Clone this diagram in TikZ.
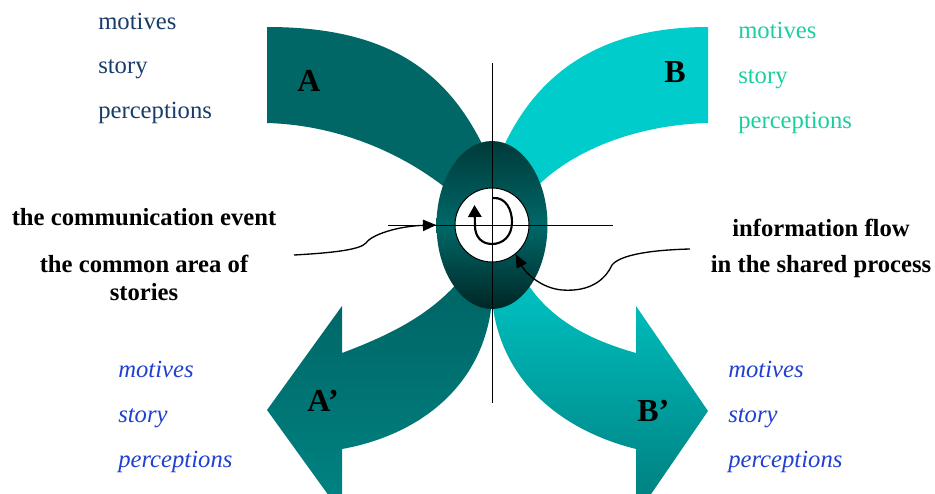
\documentclass[tikz,border=0pt]{standalone}
\usepackage{fontspec}
\setmainfont{Liberation Serif}
\usetikzlibrary{arrows.meta,shapes.geometric}
\definecolor{tealA}{RGB}{0,102,102}
\definecolor{cyanB}{RGB}{0,204,204}
\definecolor{aprTop}{RGB}{0,100,100}
\definecolor{aprBot}{RGB}{0,132,132}
\definecolor{bprTop}{RGB}{0,194,194}
\definecolor{bprBot}{RGB}{0,124,124}
\definecolor{hubTop}{RGB}{0,58,58}
\definecolor{hubMid}{RGB}{0,104,104}
\definecolor{hubBot}{RGB}{0,38,38}
\definecolor{navytext}{RGB}{24,60,104}
\definecolor{greentext}{RGB}{25,207,160}
\definecolor{bluetext}{RGB}{32,64,208}
\begin{document}
\begin{tikzpicture}[x=0.75pt,y=-0.75pt,
  lbl/.style={inner sep=0pt, anchor=base west, font=\fontsize{18.5}{22}\selectfont},
  ilbl/.style={lbl, font=\fontsize{18.5}{22}\selectfont\itshape},
  blbl/.style={inner sep=0pt, anchor=base, font=\fontsize{18.5}{22}\selectfont\bfseries},
  big/.style={inner sep=0pt, anchor=base west, font=\fontsize{24}{28}\selectfont\bfseries},
  thin/.style={line width=0.75pt},
  conn/.style={line width=1pt, -{Triangle[length=10pt,width=8.5pt]}}
]
\useasboundingbox (0,0) rectangle (935,493);
\clip (0,0) rectangle (935,493);

% band A (top left)
\fill[tealA] (267,27) .. controls (380,27) and (445,65) .. (485,150) -- (492,200) -- (460,200)
  .. controls (410,155) and (340,125) .. (267,123) -- cycle;
% band B (top right)
\fill[cyanB] (708,27) .. controls (610,27) and (540,65) .. (502,150) -- (492,200) -- (525,200)
  .. controls (560,155) and (630,125) .. (708,123) -- cycle;
% band A' (bottom left arrow)
\shade[top color=aprTop, bottom color=aprBot] (342,449) .. controls (420,435) and (485,385) .. (492,300)
  -- (460,280) .. controls (430,315) and (390,335) .. (342,353) -- (342,306) -- (267,410) -- (342,514) -- cycle;
% band B' (bottom right arrow)
\shade[top color=bprTop, bottom color=bprBot] (636,449) .. controls (560,430) and (500,380) .. (492,300)
  -- (525,280) .. controls (550,320) and (590,340) .. (636,353) -- (636,306) -- (708,411) -- (636,516) -- cycle;

% hub ellipse and core circle
\node[ellipse, minimum width=83.25pt, minimum height=126pt, inner sep=0pt,
  top color=hubTop, bottom color=hubBot, middle color=hubMid] (hub) at (492,225) {};
\node[circle, minimum size=55.5pt, inner sep=0pt, fill=white, draw=black, thin] (core) at (492,225) {};

% cross hair
\coordinate (vt) at (492,63);
\coordinate (vb) at (492,403);
\coordinate (hl) at (388,225);
\coordinate (hr) at (613,225);
\draw[thin] (vt) -- (vb);
\draw[thin] (hl) -- (hr);

% spiral
\draw[line width=1.6pt, -{Triangle[length=9pt,width=10pt]}] (493,198) .. controls (506,197) and (512,210) .. (512,222)
  .. controls (512,236) and (503,244) .. (492,244) .. controls (481,244) and (475,236) .. (475,226) -- (474.5,205);

% connectors
\coordinate (lstart) at (294,255);
\coordinate (rstart) at (690,249);
\draw[conn] (lstart) .. controls (330,253) and (360,250) .. (366,243)
  .. controls (372,234) and (400,226) .. (hub.west);
\draw[conn] (rstart) .. controls (650,250) and (620,255) .. (612,265)
  .. controls (605,280) and (590,292) .. (562,290) .. controls (540,288) and (525,272) .. (core.-51);

% letters
\node[big] (la) at (297,91) {A};
\node[big] (lb) at (664,82) {B};
\node[big] (lap) at (307,411) {A’};
\node[big] (lbp) at (637,421) {B’};

% top-left texts
\node[lbl, text=navytext] (tl1) at (98,29) {motives};
\node[lbl, text=navytext] (tl2) at (98,73) {story};
\node[lbl, text=navytext] (tl3) at (98,118) {perceptions};
% top-right texts
\node[lbl, text=greentext] (tr1) at (738,38) {motives};
\node[lbl, text=greentext] (tr2) at (738,83) {story};
\node[lbl, text=greentext] (tr3) at (738,128) {perceptions};
% bottom-left texts
\node[ilbl, text=bluetext] (bl1) at (118,377) {motives};
\node[ilbl, text=bluetext] (bl2) at (118,422) {story};
\node[ilbl, text=bluetext] (bl3) at (118,467) {perceptions};
% bottom-right texts
\node[ilbl, text=bluetext] (br1) at (728,377) {motives};
\node[ilbl, text=bluetext] (br2) at (728,422) {story};
\node[ilbl, text=bluetext] (br3) at (728,467) {perceptions};

% bold labels
\node[blbl] (ev) at (144,225) {the communication event};
\node[blbl] (ca1) at (144,272) {the common area of};
\node[blbl] (ca2) at (144,300) {stories};
\node[blbl] (if1) at (821,236) {information flow};
\node[blbl] (if2) at (821,272) {in the shared process};
\end{tikzpicture}
\end{document}
